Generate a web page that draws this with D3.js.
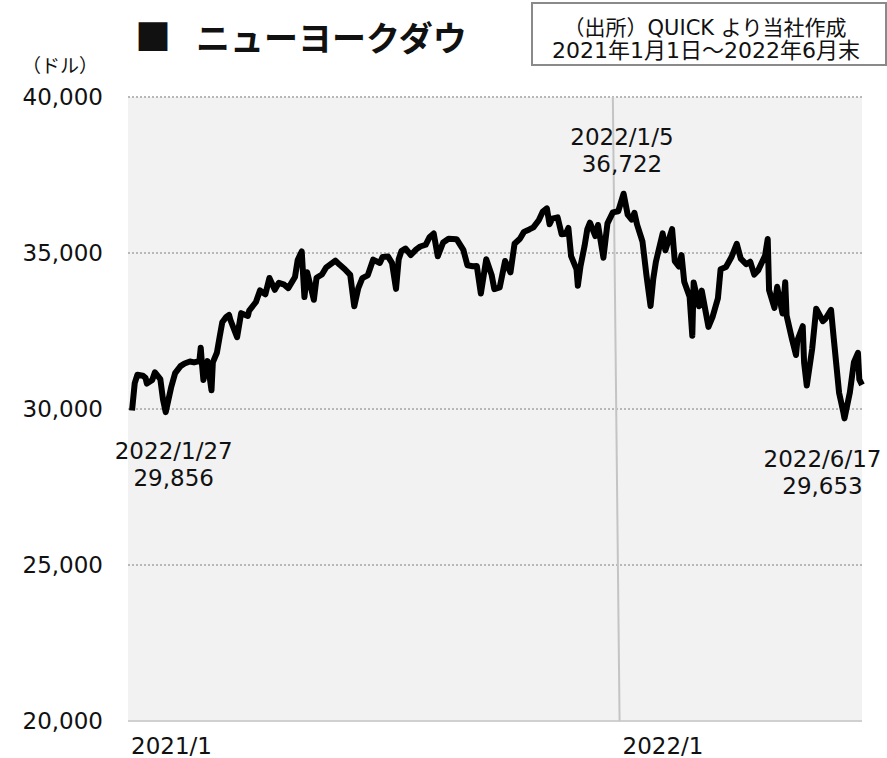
<!DOCTYPE html>
<meta charset="utf-8">
<style>
body { margin: 0; background: #fff; }
text { font-family: "DejaVu Sans", "Noto Sans CJK JP", sans-serif; fill: #111; }
.jp { font-family: "Noto Sans CJK JP", sans-serif; }
.grid line { stroke: #b8b8b8; stroke-width: 2; stroke-dasharray: 2,2; }
</style>
<body>
<script src="https://d3js.org/d3.v7.min.js"></script>
<script>

// NYダウ 終値（図から読み取り、ところどころ日中の高値・安値）
var dates = [
  "2021-01-04","2021-01-06","2021-01-08","2021-01-12","2021-01-14","2021-01-15","2021-01-19","2021-01-21","2021-01-25","2021-01-27","2021-01-29",
  "2021-02-02","2021-02-05","2021-02-09","2021-02-12","2021-02-16","2021-02-19","2021-02-23","2021-02-24","2021-02-25","2021-02-26",
  "2021-03-01","2021-03-04","2021-03-05","2021-03-08","2021-03-10","2021-03-12","2021-03-15","2021-03-17","2021-03-18","2021-03-23","2021-03-26","2021-03-31",
  "2021-04-01","2021-04-06","2021-04-09","2021-04-13","2021-04-16","2021-04-20","2021-04-23","2021-04-27","2021-04-30",
  "2021-05-05","2021-05-07","2021-05-10","2021-05-12","2021-05-14","2021-05-19","2021-05-21","2021-05-25","2021-05-28",
  "2021-06-04","2021-06-07","2021-06-11","2021-06-15","2021-06-18","2021-06-21","2021-06-24","2021-06-28",
  "2021-07-02","2021-07-07","2021-07-09","2021-07-13","2021-07-16","2021-07-19","2021-07-21","2021-07-23","2021-07-26","2021-07-30",
  "2021-08-03","2021-08-06","2021-08-10","2021-08-13","2021-08-16","2021-08-19","2021-08-23","2021-08-27",
  "2021-09-02","2021-09-07","2021-09-10","2021-09-14","2021-09-17","2021-09-20","2021-09-24","2021-09-28","2021-09-30",
  "2021-10-04","2021-10-08","2021-10-12","2021-10-15","2021-10-19","2021-10-22","2021-10-26","2021-10-29",
  "2021-11-02","2021-11-05","2021-11-08","2021-11-10","2021-11-12","2021-11-16","2021-11-19","2021-11-22","2021-11-24","2021-11-26","2021-11-30",
  "2021-12-01","2021-12-03","2021-12-06","2021-12-08","2021-12-10","2021-12-14","2021-12-16","2021-12-20","2021-12-23","2021-12-27","2021-12-31",
  "2022-01-04","2022-01-07","2022-01-10","2022-01-12","2022-01-14","2022-01-18","2022-01-21","2022-01-24","2022-01-26","2022-01-28",
  "2022-02-02","2022-02-04","2022-02-09","2022-02-11","2022-02-14","2022-02-16","2022-02-18","2022-02-22","2022-02-24","2022-02-25",
  "2022-03-01","2022-03-03","2022-03-08","2022-03-11","2022-03-15","2022-03-17","2022-03-21","2022-03-25","2022-03-29",
  "2022-04-01","2022-04-05","2022-04-08","2022-04-11","2022-04-14","2022-04-19","2022-04-21","2022-04-22","2022-04-26","2022-04-28",
  "2022-05-02","2022-05-04","2022-05-05","2022-05-09","2022-05-12","2022-05-13","2022-05-17","2022-05-18","2022-05-20","2022-05-24","2022-05-27",
  "2022-06-01","2022-06-03","2022-06-07","2022-06-09","2022-06-13","2022-06-16","2022-06-17","2022-06-21","2022-06-24","2022-06-27","2022-06-28","2022-06-30"
];
var values = [
  29950,30829,31098,31068,31000,30814,30930,31176,30960,30303,29900,
  30688,31148,31375,31458,31523,31494,31537,31961,31402,30932,
  31535,30600,31496,31802,32297,32778,32953,33015,32862,32300,33072,32982,
  33153,33430,33800,33677,34200,33821,34043,33984,33875,
  34230,34778,35050,33587,34382,33500,34208,34312,34529,
  34756,34630,34480,34299,33290,33876,34196,34283,
  34786,34681,34870,34888,34687,33850,34798,35061,35144,34935,
  35116,35208,35264,35515,35625,34894,35336,35455,
  35443,35100,34607,34577,34584,33700,34798,34299,33843,
  33900,34746,34378,35295,35457,35677,35756,35820,
  36052,36328,36432,35921,36100,36142,35602,35619,35804,34899,34483,
  33950,34580,35227,35754,35971,35544,35897,34850,35950,36302,36338,
  36900,36231,36068,36290,35911,35368,34265,33300,34168,34725,
  35629,35089,35768,34738,34566,34934,34079,33597,32350,34058,
  33294,33794,32632,32944,33544,34480,34552,34861,35294,
  34818,34641,34721,34308,34451,34911,35450,33811,33240,33916,
  33061,34061,32998,32245,31730,32197,32654,31490,30750,31928,33212,
  32814,32899,33180,32272,30516,29927,29700,30530,31500,31800,30947,30775
];

var yTicks = [20000, 25000, 30000, 35000, 40000];
var xTicks = ["2021-01-01", "2022-01-01"];
var xTickLabels = ["2021/1", "2022/1"];

// 注記: 日付, 値, テキスト2行
var notes = [
  {date: "2022-01-05", value: 36722, lines: ["2022/1/5", "36,722"], dx: -3, dy: -54},
  {date: "2021-01-29", value: 29856, lines: ["2022/1/27", "29,856"], dx: 8, dy: 46},
  {date: "2022-06-17", value: 29653, lines: ["2022/6/17", "29,653"], dx: -22, dy: 47}
];

var parse = d3.timeParse("%Y-%m-%d");
var data = dates.map(function(d, i) { return {date: parse(d), value: values[i]}; });

var W = 887, H = 758;
var margin = {top: 97, right: 25, bottom: 37, left: 128},
    width = W - margin.left - margin.right,
    height = H - margin.top - margin.bottom;

var svg = d3.select("body").append("svg")
    .attr("width", W)
    .attr("height", H);

var x = d3.scaleTime()
    .domain([parse("2021-01-01"), parse("2022-06-30")])
    .range([0, width]);

var y = d3.scaleLinear()
    .domain([20000, 40000])
    .range([height, 0]);

var g = svg.append("g")
    .attr("transform", "translate(" + margin.left + "," + margin.top + ")");

g.append("rect")
    .attr("width", width)
    .attr("height", height)
    .attr("fill", "#f2f2f2");

// dotted gridlines
g.append("g")
    .attr("class", "grid")
  .selectAll("line")
    .data(yTicks.filter(function(d) { return d > 20000; }))
  .enter().append("line")
    .attr("x1", 0)
    .attr("x2", width)
    .attr("y1", function(d) { return y(d); })
    .attr("y2", function(d) { return y(d); });

// bottom baseline
g.append("line")
    .attr("x1", 0).attr("x2", width)
    .attr("y1", height).attr("y2", height)
    .attr("stroke", "#d0d0d0")
    .attr("stroke-width", 2);

// year separator (slightly slanted in the original)
g.append("line")
    .attr("x1", x(parse("2021-12-27")))
    .attr("x2", x(parse("2022-01-01")))
    .attr("y1", 0)
    .attr("y2", height)
    .attr("stroke", "#c4c4c4")
    .attr("stroke-width", 2);

// y axis labels
var yAxis = g.append("g")
    .call(d3.axisLeft(y).tickValues(yTicks).tickSize(0).tickPadding(25).tickFormat(d3.format(",")));
yAxis.select(".domain").remove();
yAxis.selectAll("text")
    .attr("font-size", 23)
    .attr("font-family", "DejaVu Sans")
    .attr("fill", "#111");

// x axis labels, left aligned at the tick
g.append("g")
  .selectAll("text")
    .data(xTicks)
  .enter().append("text")
    .attr("x", function(d) { return x(parse(d)) + 3; })
    .attr("y", height + 33)
    .attr("font-size", 23)
    .text(function(d, i) { return xTickLabels[i]; });

var line = d3.line()
    .x(function(d) { return x(d.date); })
    .y(function(d) { return y(d.value); });

g.append("path")
    .datum(data)
    .attr("fill", "none")
    .attr("stroke", "#000")
    .attr("stroke-width", 6)
    .attr("stroke-linejoin", "round")
    .attr("d", line);

// annotations
notes.forEach(function(n) {
  var t = g.append("text")
      .attr("text-anchor", "middle")
      .attr("font-size", 23)
      .attr("transform", "translate(" + (x(parse(n.date)) + n.dx) + "," + (y(n.value) + n.dy) + ")");
  n.lines.forEach(function(l, i) {
    t.append("tspan").attr("x", 0).attr("dy", i ? 27 : 0).text(l);
  });
});

// title
svg.append("text")
    .attr("class", "jp")
    .attr("x", 135).attr("y", 51)
    .attr("font-size", 36)
    .attr("font-weight", 700)
    .text("■");
svg.append("text")
    .attr("class", "jp")
    .attr("x", 196).attr("y", 51)
    .attr("font-size", 34)
    .attr("font-weight", 700)
    .text("ニューヨークダウ");

svg.append("text")
    .attr("class", "jp")
    .attr("x", 60).attr("y", 73)
    .attr("text-anchor", "middle")
    .attr("font-size", 19)
    .text("（ドル）");

// source box
svg.append("rect")
    .attr("x", 532).attr("y", 3)
    .attr("width", 354).attr("height", 62)
    .attr("fill", "#fff")
    .attr("stroke", "#8a8a8a")
    .attr("stroke-width", 2);
svg.append("text")
    .attr("x", 705).attr("y", 35)
    .attr("text-anchor", "middle")
    .attr("font-size", 21)
    .text("（出所）QUICK より当社作成");
svg.append("text")
    .attr("x", 706).attr("y", 58)
    .attr("text-anchor", "middle")
    .attr("font-size", 22)
    .text("2021年1月1日～2022年6月末");

</script>
